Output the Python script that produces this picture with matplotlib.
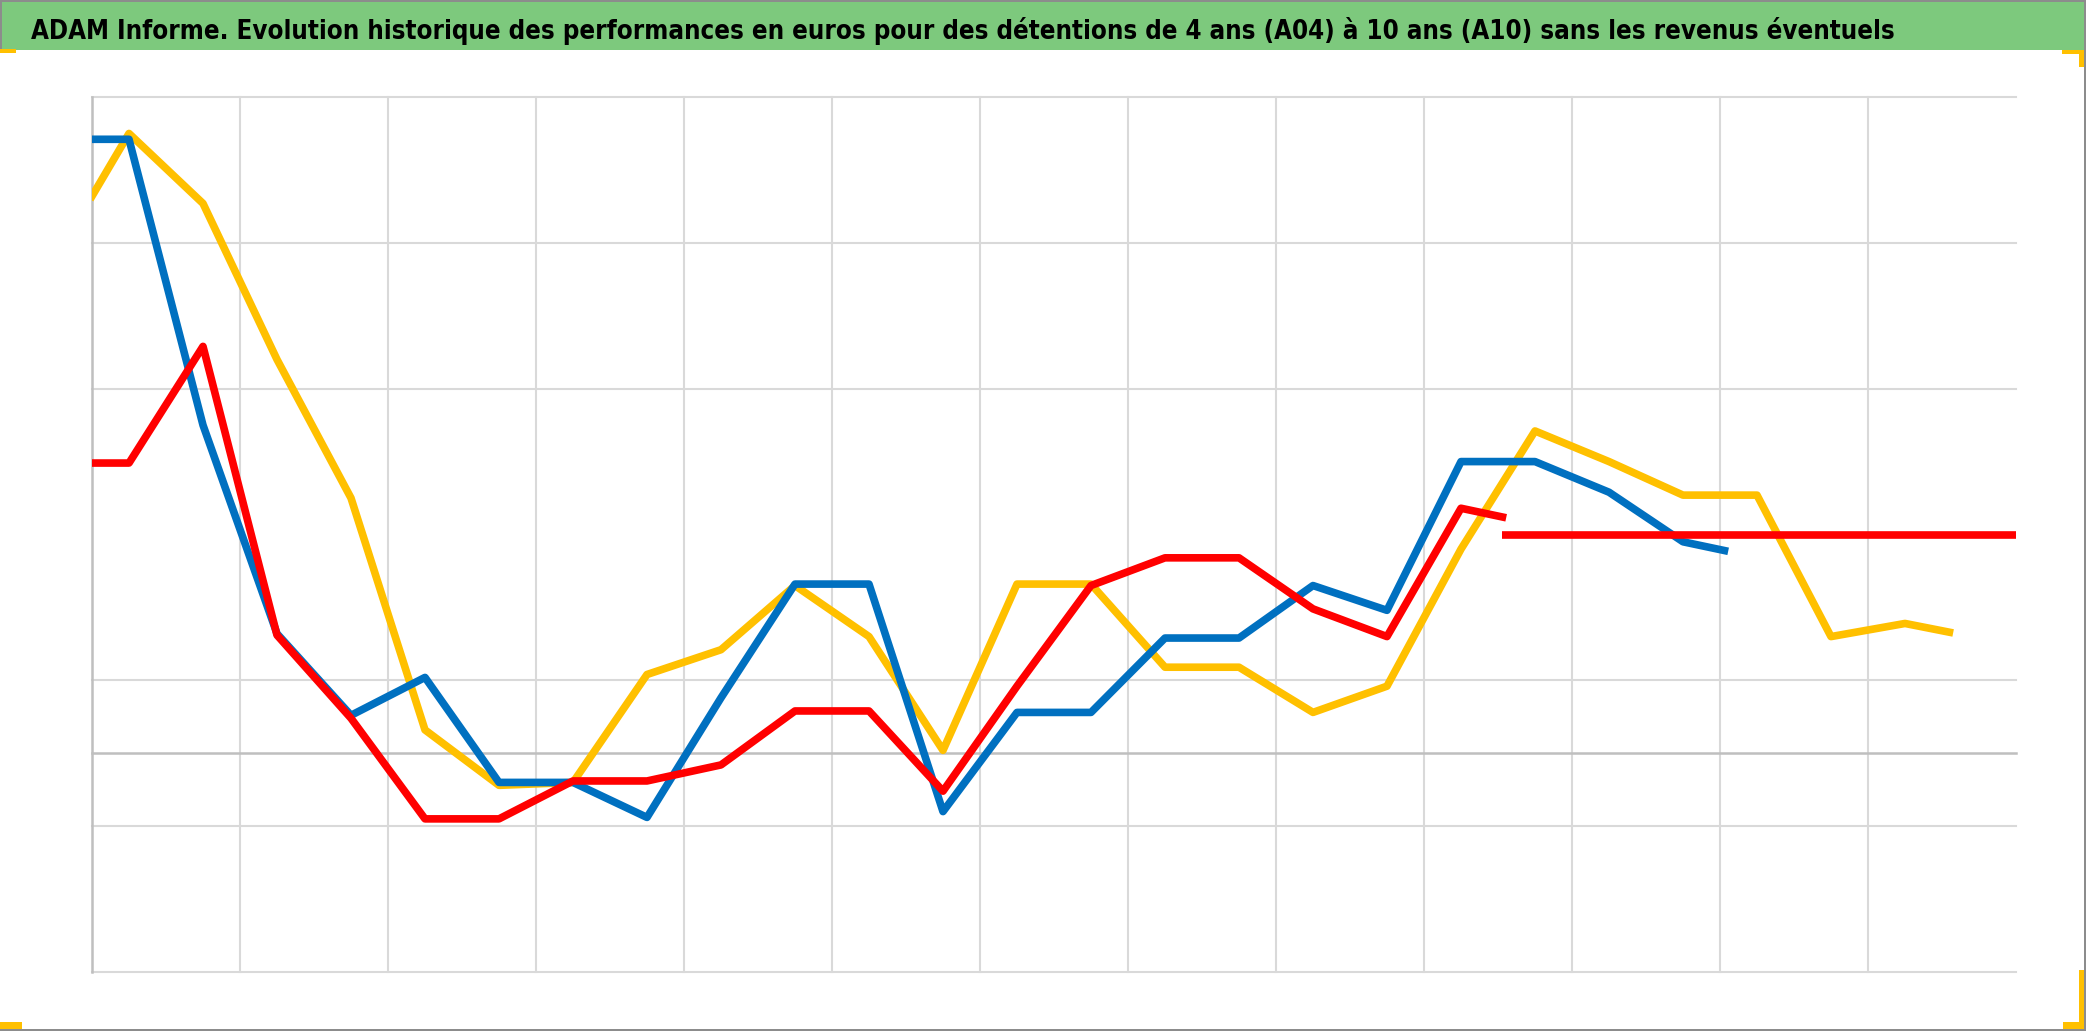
import matplotlib
matplotlib.use("Agg")
import matplotlib.pyplot as plt
from matplotlib.patches import Rectangle
from matplotlib import font_manager

# ---------------- data (x in grid units, values in %) ----------------
title = ("ADAM Informe. Evolution historique des performances en euros pour des "
         "détentions de 4 ans (A04) à 10 ans (A10) sans les revenus éventuels")

blue_x = [0, 0.25, 0.75, 1.25, 1.75, 2.25, 2.75, 3.25, 3.75, 4.25, 4.75, 5.25,
          5.75, 6.25, 6.75, 7.25, 7.75, 8.25, 8.75, 9.25, 9.75, 10.25, 10.75, 11.03]
blue_y = [42.1, 42.1, 22.5, 8.2, 2.6, 5.2, -2.0, -2.0, -4.4, 3.8, 11.6, 11.6,
          -4.0, 2.8, 2.8, 7.9, 7.9, 11.5, 9.8, 20.0, 20.0, 17.9, 14.5, 13.9]

yellow_x = [0, 0.25, 0.75, 1.25, 1.75, 2.25, 2.75, 3.25, 3.75, 4.25, 4.75, 5.25,
            5.75, 6.25, 6.75, 7.25, 7.75, 8.25, 8.75, 9.25, 9.75, 10.25, 10.75,
            11.25, 11.75, 12.25, 12.55]
yellow_y = [38.2, 42.5, 37.7, 27.0, 17.5, 1.6, -2.2, -2.0, 5.4, 7.1, 11.5, 8.0,
            0.2, 11.6, 11.6, 5.9, 5.9, 2.8, 4.6, 14.0, 22.1, 20.0, 17.7,
            17.7, 8.0, 8.9, 8.3]

red_x = [0, 0.25, 0.75, 1.25, 1.75, 2.25, 2.75, 3.25, 3.75, 4.25, 4.75, 5.25,
         5.75, 6.25, 6.75, 7.25, 7.75, 8.25, 8.75, 9.25, 9.53]
red_y = [19.9, 19.9, 27.9, 8.1, 2.4, -4.5, -4.5, -1.9, -1.9, -0.8, 2.9, 2.9,
         -2.6, 4.6, 11.5, 13.4, 13.4, 9.9, 8.0, 16.8, 16.2]

red2_x = [9.53, 13.0]
red2_y = [15.0, 15.0]

x_grid = [1, 2, 3, 4, 5, 6, 7, 8, 9, 10, 11, 12]
y_grid = [-15, -5, 5, 25, 35, 45]

# ---------------- figure ----------------
W, H = 2086, 1031
fig = plt.figure(figsize=(W / 100, H / 100), dpi=100)
fig.patch.set_facecolor("white")

def fx(px):
    return px / W

def fy(py):
    return 1 - py / H

# title bar
fig.add_artist(Rectangle((0, fy(50)), 1, 50 / H, transform=fig.transFigure,
                         facecolor="#7DC97D", edgecolor="none", zorder=0))

# figure border
for (x0, y0, w, h) in [(0, 0, W, 1.5), (0, H - 2, W, 2), (0, 0, 1.5, 50), (W - 2, 0, 2, H)]:
    fig.add_artist(Rectangle((fx(x0), fy(y0 + h)), w / W, h / H, transform=fig.transFigure,
                             facecolor="#8C8C8C", edgecolor="none", zorder=5))

# orange selection handles
handles = [(0, 49, 16, 4), (2062, 50, 22, 4), (2079, 50, 5, 17),
           (0, 1022, 22, 7), (2063, 1022, 21, 7), (2079, 970, 5, 58)]
for (x0, y0, w, h) in handles:
    fig.add_artist(Rectangle((fx(x0), fy(y0 + h)), w / W, h / H, transform=fig.transFigure,
                             facecolor="#FFC000", edgecolor="none", zorder=6))

# title text (fit to reference width)
fam = "DejaVu Sans"
for cand in ["Liberation Sans Narrow", "DejaVu Sans"]:
    try:
        font_manager.findfont(font_manager.FontProperties(family=cand), fallback_to_default=False)
        fam = cand
        break
    except Exception:
        pass
t = fig.text(fx(31), fy(39), title, fontsize=24, fontweight="bold", family=fam,
             fontstretch="condensed", color="black", ha="left", va="baseline", zorder=7)
fig.canvas.draw()
bb = t.get_window_extent()
t.set_fontsize(24 * 1865 / bb.width)

# plot axes
ax = fig.add_axes([fx(92), fy(972), (2016 - 92) / W, (972 - 97) / H])
ax.set_xlim(0, 13)
ax.set_ylim(-15, 45)
for s in ax.spines.values():
    s.set_visible(False)
ax.set_xticks([])
ax.set_yticks([])

gc = "#D9D9D9"
for yv in y_grid:
    ax.plot([0, 13], [yv, yv], color=gc, lw=1.5, zorder=1, clip_on=False)
for xv in x_grid:
    ax.plot([xv, xv], [-15, 45], color=gc, lw=1.5, zorder=1, clip_on=False)
ax.plot([0, 13], [0, 0], color="#BFBFBF", lw=1.8, zorder=1.5, clip_on=False)
ax.plot([0, 0], [-15, 45], color="#BFBFBF", lw=1.8, zorder=1.5, clip_on=False)

lw = 5.5
ax.plot(yellow_x, yellow_y, color="#FFC000", lw=lw, zorder=3, solid_joinstyle="round")
ax.plot(blue_x, blue_y, color="#0070C0", lw=lw, zorder=4, solid_joinstyle="round")
ax.plot(red_x, red_y, color="#FF0000", lw=lw, zorder=5, solid_joinstyle="round")
ax.plot(red2_x, red2_y, color="#FF0000", lw=lw, zorder=5, solid_capstyle="butt")

fig.savefig("out.png", dpi=100, facecolor="white")
